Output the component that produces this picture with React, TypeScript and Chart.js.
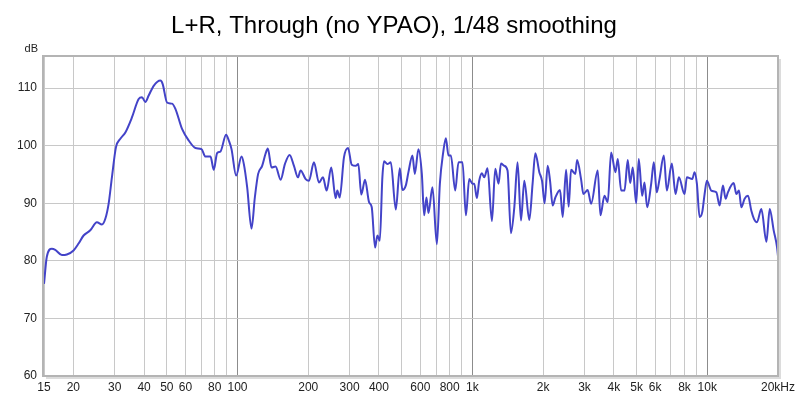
import React, { useEffect, useRef } from 'react';
import { Chart, registerables } from 'chart.js';

Chart.register(...registerables);

const TITLE = 'L+R, Through (no YPAO), 1/48 smoothing';
const Y_UNIT = 'dB';

const FREQS = [
  15, 15.42, 16.2, 16.75, 17.87, 18.77, 20.04, 21.05, 22.11, 23.61,
  25.2, 26.46, 27.36, 28.26, 29.19, 30.36, 31.7, 33.3, 35.52, 37.94,
  39.19, 40.52, 41.85, 43.96, 46.95, 48.02, 50.1, 52.61, 54.39, 58.05,
  61.98, 66.21, 70.23, 73.04, 76.73, 79.25, 81.85, 84.63, 89.41, 91.82,
  94.28, 98.63, 104, 106.4, 109.9, 114.7, 118.5, 122.4, 127.3, 131.6,
  134.6, 139.6, 145.2, 152.6, 159.1, 166.6, 173.9, 180.8, 185.6, 195,
  201.4, 211.5, 222.2, 231.1, 239.6, 250.6, 261.7, 265.9, 272.3, 284,
  295.4, 306.3, 318.6, 326.8, 336.5, 349, 363, 372.8, 385.1, 393.9,
  403.3, 413.7, 420.7, 434.5, 449.3, 471.9, 490.8, 503.5, 520.6, 534.1,
  555.5, 568.7, 589.1, 609.1, 623.1, 637.3, 649.9, 676, 705.8, 726.9,
  750.8, 770.9, 790.9, 809.7, 844.8, 872.5, 907.5, 938.3, 969.2, 1001,
  1018, 1045, 1069, 1098, 1123, 1160, 1211, 1251, 1292, 1323,
  1366, 1411, 1459, 1508, 1557, 1610, 1663, 1747, 1804, 1853,
  1927, 1979, 2030, 2091, 2141, 2196, 2255, 2361, 2423, 2505,
  2569, 2630, 2744, 2790, 2901, 2968, 3096, 3201, 3416, 3508,
  3648, 3768, 3896, 4064, 4157, 4298, 4440, 4586, 4695, 4816,
  4980, 5108, 5281, 5402, 5547, 5770, 5919, 6096, 6260, 6530,
  6725, 7063, 7325, 7567, 8002, 8185, 8630, 8827, 9030, 9272,
  9521, 9739, 9961, 10400, 10925, 11285, 11655, 11970, 12240, 12950,
  13300, 13640, 13960, 14420, 14900, 15400, 15800, 16270, 16990, 17850,
  18440, 19170, 19810, 20000,
];

const LEVELS = [
  76.0, 80.7, 82.1, 81.9, 81.0, 81.1, 81.8, 83.0, 84.4, 85.3,
  86.7, 86.3, 87.3, 89.9, 94.5, 99.7, 101.2, 102.3, 104.9, 108.1,
  108.4, 107.6, 108.7, 110.4, 111.3, 110.7, 107.5, 107.3, 106.4, 102.9,
  100.9, 99.6, 99.4, 98.1, 98.1, 95.8, 98.7, 99.0, 101.9, 100.9,
  99.4, 94.8, 98.1, 96.8, 92.8, 85.6, 91.0, 95.1, 96.5, 98.6,
  99.5, 96.2, 96.4, 94.1, 96.8, 98.4, 96.5, 94.5, 95.7, 94.2,
  93.9, 97.1, 93.6, 94.5, 92.2, 96.2, 90.9, 92.2, 91.0, 98.0,
  99.6, 96.7, 96.5, 96.8, 91.5, 94.1, 90.2, 89.3, 82.3, 84.4,
  83.5, 94.5, 97.3, 96.8, 97.1, 88.9, 96.1, 92.3, 93.1, 95.4,
  98.3, 95.1, 99.4, 95.1, 87.9, 91.0, 88.3, 92.8, 82.9, 93.4,
  98.8, 101.3, 98.3, 98.3, 92.2, 97.1, 97.1, 87.9, 94.2, 93.4,
  93.4, 90.9, 93.9, 95.2, 94.5, 96.1, 86.9, 96.0, 93.4, 96.9,
  96.5, 95.7, 84.8, 89.3, 97.1, 87.0, 93.9, 87.1, 93.4, 98.7,
  95.4, 93.9, 90.0, 96.5, 93.9, 89.6, 91.0, 92.3, 87.6, 95.8,
  89.4, 95.8, 95.1, 97.5, 94.2, 91.6, 92.3, 89.9, 95.7, 87.9,
  91.3, 90.2, 98.8, 95.4, 97.7, 92.2, 92.2, 97.5, 93.5, 96.2,
  90.0, 97.7, 91.3, 93.6, 89.3, 93.4, 97.1, 91.9, 94.2, 98.3,
  92.2, 96.9, 91.6, 94.5, 91.6, 94.5, 94.2, 95.4, 93.4, 87.6,
  88.5, 91.6, 93.9, 92.2, 91.9, 89.6, 93.1, 90.8, 91.9, 93.5,
  91.6, 92.2, 89.3, 90.8, 91.3, 88.7, 87.3, 86.7, 89.0, 83.3,
  89.0, 85.3, 82.4, 80.8,
];

const X_GRID = [
  15, 20, 30, 40, 50, 60, 70, 80, 90, 100,
  200, 300, 400, 500, 600, 700, 800, 900, 1000,
  2000, 3000, 4000, 5000, 6000, 7000, 8000, 9000, 10000, 20000,
];
const X_LABELS: Record<number, string> = {
  15: '15', 20: '20', 30: '30', 40: '40', 50: '50', 60: '60', 80: '80', 100: '100',
  200: '200', 300: '300', 400: '400', 600: '600', 800: '800', 1000: '1k',
  2000: '2k', 3000: '3k', 4000: '4k', 5000: '5k', 6000: '6k', 8000: '8k',
  10000: '10k', 20000: '20kHz',
};
const DECADES = [100, 1000, 10000];
const Y_TICKS = [60, 70, 80, 90, 100, 110];

const FONT = '"Liberation Sans", Arial, sans-serif';

const framePlugin = {
  id: 'frame',
  afterDraw(chart: any) {
    const { ctx, chartArea } = chart;
    const { left, top, right, bottom } = chartArea;
    ctx.save();
    ctx.strokeStyle = '#dcdcdc';
    ctx.lineWidth = 2;
    ctx.beginPath();
    ctx.moveTo(right + 2, top + 2);
    ctx.lineTo(right + 2, bottom + 2);
    ctx.lineTo(left + 2, bottom + 2);
    ctx.stroke();
    ctx.strokeStyle = '#b4b4b4';
    ctx.lineWidth = 2;
    ctx.strokeRect(left - 1, top - 1, right - left + 1, bottom - top + 1);
    ctx.fillStyle = '#000';
    ctx.font = `24px ${FONT}`;
    ctx.textAlign = 'center';
    ctx.textBaseline = 'alphabetic';
    ctx.fillText(TITLE, 394, 33);
    ctx.fillStyle = '#222';
    ctx.font = `11px ${FONT}`;
    ctx.textAlign = 'right';
    ctx.fillText(Y_UNIT, 38, 52);
    ctx.restore();
  },
};

export default function App() {
  const ref = useRef<HTMLCanvasElement | null>(null);

  useEffect(() => {
    if (!ref.current) return;
    const data = FREQS.map((f, i) => ({ x: f, y: LEVELS[i] }));
    const chart = new Chart(ref.current, {
      type: 'line',
      data: {
        datasets: [
          {
            data,
            borderColor: '#4343c8',
            borderWidth: 2,
            pointRadius: 0,
            fill: false,
            cubicInterpolationMode: 'monotone',
          },
        ],
      },
      options: {
        animation: false,
        responsive: false,
        devicePixelRatio: 1,
        layout: { padding: { top: 57, left: 0, right: 22, bottom: 0 } },
        plugins: {
          legend: { display: false },
          tooltip: { enabled: false },
          title: { display: false },
        },
        scales: {
          x: {
            type: 'logarithmic',
            min: 15,
            max: 20000,
            afterBuildTicks: (scale: any) => {
              scale.ticks = X_GRID.map((v) => ({ value: v }));
            },
            afterFit: (scale: any) => {
              scale.height = 22;
            },
            ticks: {
              autoSkip: false,
              maxRotation: 0,
              minRotation: 0,
              padding: 4,
              color: '#222',
              font: { family: FONT, size: 12 },
              callback: (v: any) => X_LABELS[Number(v)] ?? '',
            },
            grid: {
              drawTicks: false,
              lineWidth: 1,
              color: (ctx: any) =>
                DECADES.includes(ctx.tick?.value) ? '#8c8c8c' : '#c8c8c8',
            },
            border: { display: false },
          },
          y: {
            type: 'linear',
            min: 60,
            max: 115.4,
            afterBuildTicks: (scale: any) => {
              scale.ticks = Y_TICKS.map((v) => ({ value: v }));
            },
            afterFit: (scale: any) => {
              scale.width = 44;
            },
            ticks: {
              padding: 7,
              color: '#222',
              font: { family: FONT, size: 12 },
              callback: (v: any) => String(v),
            },
            grid: { drawTicks: false, lineWidth: 1, color: '#c8c8c8' },
            border: { display: false },
          },
        },
      },
      plugins: [framePlugin],
    });
    return () => chart.destroy();
  }, []);

  return (
    <div style={{ position: 'fixed', left: 0, top: 0, width: 800, height: 398, background: '#fff' }}>
      <canvas ref={ref} width={800} height={398} style={{ width: 800, height: 398 }} />
    </div>
  );
}
